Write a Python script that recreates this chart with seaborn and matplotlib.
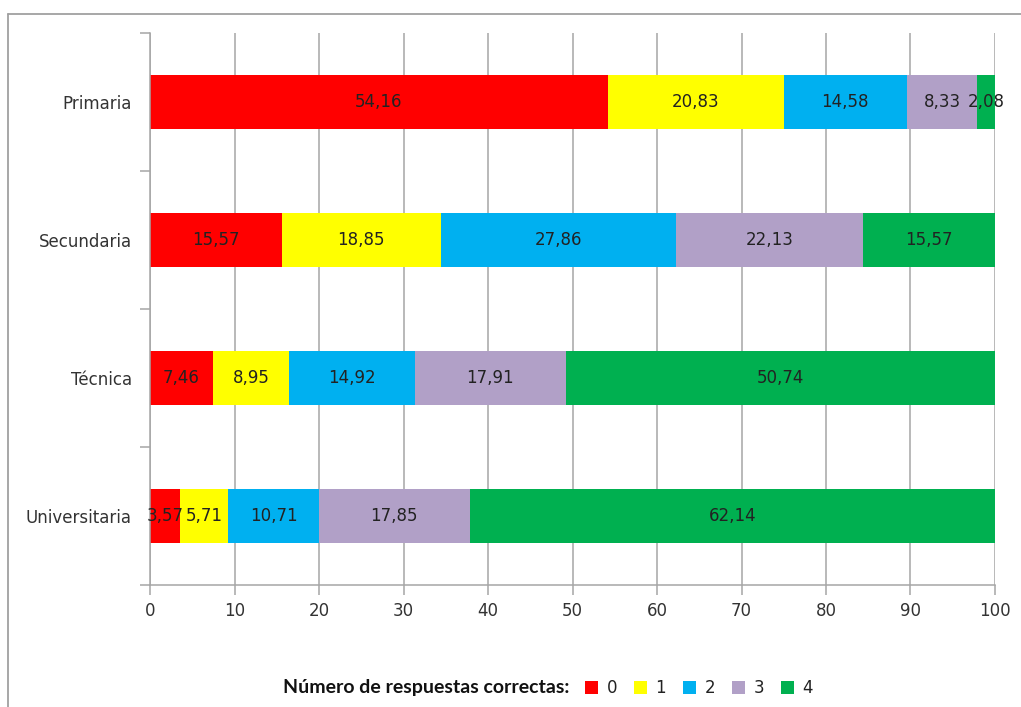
import matplotlib
matplotlib.use("Agg")
import matplotlib.pyplot as plt
from matplotlib.lines import Line2D
from matplotlib.patches import Patch
import numpy as np
import pandas as pd
import seaborn as sns

categories = ["Primaria", "Secundaria", "Técnica", "Universitaria"]
series_names = ["0", "1", "2", "3", "4"]
v0 = [54.16, 15.57, 7.46, 3.57]
v1 = [20.83, 18.85, 8.95, 5.71]
v2 = [14.58, 27.86, 14.92, 10.71]
v3 = [8.33, 22.13, 17.91, 17.85]
v4 = [2.08, 15.57, 50.74, 62.14]
colors = ["#FF0000", "#FFFF00", "#00B0F0", "#B1A0C7", "#00B050"]
xticks = [0, 10, 20, 30, 40, 50, 60, 70, 80, 90, 100]
legend_title = "Número de respuestas correctas:"

sns.set_theme(style="white")
plt.rcParams["font.family"] = ["DejaVu Sans"]

FS = 12

series = [v0, v1, v2, v3, v4]
vals = np.array(series)
cum = np.cumsum(vals, axis=0)

fig = plt.figure(figsize=(10.21, 7.07), dpi=100)
ax = fig.add_axes([150 / 1021, 1 - 585 / 707, 845 / 1021, 552 / 707])

grid_c = "#A6A6A6"
for x in xticks:
    ax.axvline(x, color=grid_c, lw=1.1, zorder=0)

# draw cumulative bars from the largest back to smallest (stacking)
for i in range(len(series) - 1, -1, -1):
    df = pd.DataFrame({"cat": categories, "val": cum[i]})
    sns.barplot(data=df, x="val", y="cat", orient="h", color=colors[i],
                width=0.39, saturation=1, ax=ax, zorder=2, linewidth=0)

# value labels
for i in range(len(series)):
    for j, c in enumerate(categories):
        start = cum[i][j] - vals[i][j]
        mid = start + vals[i][j] / 2
        ax.text(mid, j, f"{vals[i][j]:.2f}".replace(".", ","), ha="center", va="center",
                fontsize=FS, color="#222222", zorder=5)

ax.set_xlim(0, 100)
ax.set_ylim(3.5, -0.5)
ax.set_xticks(xticks)
ax.set_xticklabels([str(x) for x in xticks], fontsize=FS, color="#333333")
ax.set_yticks(range(len(categories)))
ax.set_yticklabels(categories, fontsize=FS, color="#333333")
ax.set_yticks(np.arange(-0.5, len(categories), 1.0), minor=True)
ax.tick_params(axis="y", which="major", length=0, pad=13)
ax.tick_params(axis="y", which="minor", length=7, color=grid_c, width=1.1, left=True)
ax.tick_params(axis="x", length=7, color=grid_c, width=1.1, bottom=True, pad=5)
ax.set_xlabel("")
ax.set_ylabel("")
for s in ["top", "right"]:
    ax.spines[s].set_visible(False)
for s in ["left", "bottom"]:
    ax.spines[s].set_color(grid_c)
    ax.spines[s].set_linewidth(1.1)

# legend
handles = [Patch(facecolor=c, edgecolor="none") for c in colors]
fig.legend(handles, series_names, loc="center left", bbox_to_anchor=(570 / 1021, 1 - 688 / 707),
           ncol=5, frameon=False, fontsize=FS,
           handlelength=0.8, handleheight=0.8,
           handletextpad=0.5, columnspacing=1.0, labelcolor="#222222")
fig.text(569 / 1021, 1 - 688 / 707, legend_title, ha="right", va="center",
         fontsize=14, fontweight="bold", family=["Lato", "DejaVu Sans"], color="#111111")

# outer frame
fig.add_artist(Line2D([8 / 1021, 1.0], [1 - 14 / 707, 1 - 14 / 707], color="#A0A0A0", lw=1.3))
fig.add_artist(Line2D([8 / 1021, 8 / 1021], [0.0, 1 - 14 / 707], color="#A0A0A0", lw=1.3))

fig.savefig("out.png", dpi=100)
